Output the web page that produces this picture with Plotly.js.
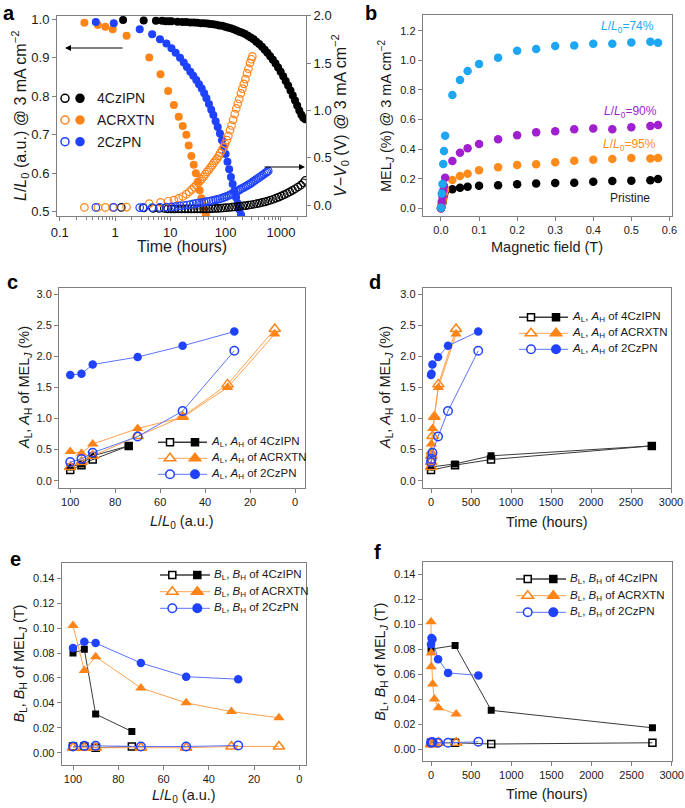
<!DOCTYPE html>
<html><head><meta charset="utf-8">
<script src="https://cdn.plot.ly/plotly-3.0.1.min.js"></script>
<style>body{margin:0;padding:0;background:#fff}#chart{width:685px;height:808px}</style>
</head><body><div id="chart"></div>
<script>
// ---------------- Panel a : lifetime (L/L0) and voltage rise (V-V0) ----------------
const tBlackL = [1.4,3.3,5.5,7.1,8.3,9.4,10.5,13.5,16.5,19.5,23,27,31,36,41,47,53,60,68,77,87,98,110,124,140,158,178,200,225,253,285,320,360,405,455,510,570,640,715,800,890,990,1100,1220,1350,1490,1640,1800,1970,2150,2340,2540,2760];
const blackL = [0.998,0.997,0.996,0.996,0.995,0.995,0.995,0.994,0.993,0.993,0.992,0.992,0.991,0.990,0.990,0.989,0.988,0.987,0.986,0.984,0.983,0.981,0.979,0.977,0.974,0.971,0.968,0.965,0.962,0.957,0.953,0.948,0.942,0.936,0.929,0.921,0.913,0.904,0.895,0.885,0.875,0.864,0.852,0.840,0.828,0.815,0.802,0.789,0.776,0.763,0.752,0.744,0.740];
const tBlackV = [1.3,3.3,4.9,6.3,7.8,9,10.4,12,14,16,18.5,21,24,27,31,35,40,45,51,58,65,73,82,92,103,116,130,146,164,184,206,231,259,290,325,365,410,460,515,578,648,727,815,914,1025,1150,1290,1445,1620,1815,2035,2280,2550,2760];
const blackV = [-0.025,-0.03,-0.035,-0.035,-0.035,-0.04,-0.04,-0.04,-0.04,-0.04,-0.04,-0.04,-0.04,-0.04,-0.04,-0.04,-0.04,-0.04,-0.04,-0.038,-0.036,-0.035,-0.033,-0.031,-0.028,-0.026,-0.023,-0.02,-0.017,-0.013,-0.01,-0.006,-0.002,0.003,0.008,0.014,0.02,0.027,0.034,0.042,0.051,0.061,0.072,0.084,0.097,0.11,0.124,0.139,0.155,0.172,0.19,0.21,0.235,0.26];
const tOrangeL = [0.28,0.49,0.67,0.91,1.62,4.16,6.65,9.14,11.6,14.2,16.8,19.5,21.5,24,26.5,29,31.5,34,36.5,39,41.5,44];
const orangeL = [0.991,0.985,0.981,0.974,0.957,0.901,0.857,0.814,0.777,0.747,0.723,0.700,0.672,0.645,0.622,0.600,0.578,0.556,0.535,0.517,0.503,0.490];
const tOrangeV = [0.28,0.49,0.67,0.91,1.62,4.16,6.65,9.14,11.6,14.2,16.8,19.5,22,24.5,27,29.5,32,34.5,37,40,43,46,49.5,53,57,61,65.5,70,75,80,86,92,98,105,112,120,128,137,146,156,166,177,189,201,214,228,243,259,276,292,305];
const orangeV = [-0.025,-0.025,-0.025,-0.025,-0.022,0.015,0.028,0.04,0.052,0.07,0.09,0.115,0.14,0.165,0.19,0.21,0.235,0.255,0.275,0.30,0.325,0.35,0.37,0.395,0.42,0.445,0.47,0.49,0.52,0.55,0.58,0.61,0.645,0.685,0.73,0.79,0.84,0.9,0.96,1.02,1.07,1.12,1.18,1.23,1.28,1.33,1.39,1.44,1.50,1.54,1.57];
const tBlueL = [0.45,0.95,2.8,4.7,6.5,8.5,10.5,12.5,15,17.5,20,23,26,29.5,33,37,41,45,50,55,60,66,72,79,86,93,100,108,116,125,134,144,155,166,178,190,205];
const blueL = [0.993,0.990,0.974,0.961,0.948,0.937,0.925,0.913,0.900,0.888,0.876,0.864,0.853,0.842,0.831,0.820,0.808,0.795,0.780,0.765,0.751,0.735,0.720,0.703,0.686,0.668,0.650,0.630,0.610,0.590,0.572,0.554,0.537,0.521,0.506,0.492,0.478];
const tBlueV = [0.45,0.95,2.8,3.2,4.7,6.5,8.5,10.5,12.5,15,17.5,20,23,26,29.5,33,37,41,45,50,55,60,66,72,79,86,93,100,108,116,125,134,144,155,166,178,190,205,220,236,253,271,290,310,332,355,380,407,435,465,497,530,560,590];
const blueV = [-0.025,-0.025,-0.027,-0.027,-0.027,-0.025,-0.022,-0.02,-0.015,-0.01,-0.005,0.0,0.005,0.012,0.018,0.022,0.026,0.03,0.035,0.04,0.045,0.05,0.055,0.06,0.066,0.073,0.08,0.087,0.095,0.103,0.112,0.12,0.13,0.14,0.15,0.16,0.17,0.18,0.19,0.2,0.21,0.22,0.232,0.244,0.256,0.268,0.28,0.292,0.304,0.316,0.328,0.34,0.35,0.36];
const materials = ['4CzIPN','ACRXTN','2CzPN'];
const logTickVals = [0.1,1,10,100,1000];
const logTickText = ['0.1','1','10','100','1000'];

// ---------------- Panel b : MEL_J vs magnetic field ----------------
const fieldLow = [0,0.002,0.004,0.006,0.008,0.011];
const fieldHigh = [0.03,0.05,0.07,0.1,0.15,0.2,0.25,0.3,0.35,0.4,0.45,0.5,0.55,0.57];
const melPristineLow = [0,0.02,0.04,0.07,0.09,0.115];
const melPristine = [0.128,0.139,0.146,0.153,0.155,0.162,0.167,0.171,0.173,0.18,0.185,0.187,0.189,0.198];
const mel95Low = [0,0.025,0.05,0.075,0.10,0.125];
const mel95 = [0.191,0.218,0.234,0.257,0.277,0.293,0.297,0.311,0.322,0.328,0.333,0.34,0.336,0.34];
const mel90Low = [0,0.045,0.08,0.12,0.15,0.207];
const mel90 = [0.32,0.376,0.405,0.434,0.466,0.493,0.513,0.52,0.534,0.54,0.534,0.547,0.556,0.563];
const mel74Low = [0.004,0.10,0.164,0.30,0.387,0.49];
const mel74 = [0.766,0.867,0.928,0.975,1.018,1.065,1.076,1.097,1.10,1.112,1.112,1.121,1.126,1.118];
const melLabels = ['<i>L</i>/<i>L</i><sub>0</sub>=74%','<i>L</i>/<i>L</i><sub>0</sub>=90%','<i>L</i>/<i>L</i><sub>0</sub>=95%','Pristine'];

// ---------------- Panels c-f : fitted parameters ----------------
const lum4Cz = [100,95,90,74];
const time4Cz = [0,300,750,2760];
const AL4Cz = [0.17,0.25,0.34,0.56];
const AH4Cz = [0.22,0.27,0.40,0.56];
const BL4Cz = [0.005,0.005,0.004,0.005];
const BH4Cz = [0.080,0.083,0.031,0.017];

const lumACR = [100,95,90,70,50,30,9];
const timeACR = [0,2,4,20,42,92,313];
const ALACR = [0.22,0.30,0.40,0.72,1.03,1.55,2.44];
const AHACR = [0.47,0.44,0.59,0.84,1.02,1.50,2.36];
const BLACR = [0.004,0.004,0.004,0.004,0.004,0.005,0.005];
const BHACR = [0.102,0.066,0.077,0.052,0.040,0.033,0.028];

const lum2Cz = [100,95,90,70,50,27];
const time2Cz = [0,6,18,88,212,590];
const AL2Cz = [0.30,0.35,0.45,0.71,1.12,2.09];
const AH2Cz = [1.70,1.72,1.87,1.99,2.17,2.40];
const BL2Cz = [0.005,0.0055,0.0055,0.005,0.005,0.0058];
const BH2Cz = [0.084,0.089,0.088,0.072,0.061,0.059];

// axis title texts
const tTime = 'Time (hours)';
const tLa = '<i>L</i>/<i>L</i><sub>0</sub> (a.u.) @ 3 mA cm<sup>−2</sup>';
const tVa = '<i>V</i>−<i>V</i><sub>0</sub> (V) @ 3 mA cm<sup>−2</sup>';
const tField = 'Magnetic field (T)';
const tMel = 'MEL<sub><i>J</i></sub> (%) @ 3 mA cm<sup>−2</sup>';
const tLum = '<i>L</i>/<i>L</i><sub>0</sub> (a.u.)';
const tA = '<i>A</i><sub>L</sub>, <i>A</i><sub>H</sub> of MEL<sub><i>J</i></sub> (%)';
const tB = '<i>B</i><sub>L</sub>, <i>B</i><sub>H</sub> of MEL<sub><i>J</i></sub> (T)';

// ---------------- styling & layout ----------------
const W = 685, H = 808;
const FONT = 'Liberation Sans, Arial, Helvetica, sans-serif';
const TXT = '#1a1a1a', FRAME = '#7f7f7f';
const cBlack = '#000000', cOrange = '#ff8418', cBlue = '#1f42ff';
const cSky = '#1ea6f2', cPurple = '#a01fcf', cOrangeB = '#ff8c1a';
const lineBlack = '#3a3a3a', lineOrange = '#ffa04d', lineBlue = '#5b74ff';

const dx = (l, r) => [l / W, r / W];
const dy = (t, b) => [1 - b / H, 1 - t / H];
const px = x => x / W, py = y => 1 - y / H;

function ax(extra) {
  return Object.assign({
    showline: true, linecolor: FRAME, linewidth: 1, mirror: true,
    ticks: 'outside', ticklen: 4, tickwidth: 1, tickcolor: FRAME,
    tickfont: {family: FONT, size: 11, color: TXT},
    showgrid: false, zeroline: false, automargin: false
  }, extra);
}

const traces = [];
function mk(x, y, xa, ya, symbol, color, size, extra) {
  const open = symbol.indexOf('open') >= 0;
  return Object.assign({
    type: 'scatter', mode: 'markers', x: x, y: y, xaxis: xa, yaxis: ya,
    showlegend: false, hoverinfo: 'skip', cliponaxis: true,
    marker: {symbol: symbol, size: size, color: color, line: {color: color, width: open ? 1.2 : 0}}
  }, extra || {});
}
// Panel a traces (open = voltage on right axis, filled = luminance on left axis)
traces.push(mk(tBlackV, blackV, 'x', 'y2', 'circle-open', cBlack, 7.5));
traces.push(mk(tOrangeV, orangeV, 'x', 'y2', 'circle-open', cOrange, 7.5));
traces.push(mk(tBlueV, blueV, 'x', 'y2', 'circle-open', cBlue, 7.5));
traces.push(mk(tOrangeL, orangeL, 'x', 'y', 'circle', cOrange, 8));
traces.push(mk(tBlueL, blueL, 'x', 'y', 'circle', cBlue, 8));
traces.push(mk(tBlackL, blackL, 'x', 'y', 'circle', cBlack, 8));

// Panel b traces
traces.push(mk(fieldLow.concat(fieldHigh), melPristineLow.concat(melPristine), 'x2', 'y3', 'circle', cBlack, 8.5));
traces.push(mk(fieldLow.concat(fieldHigh), mel95Low.concat(mel95), 'x2', 'y3', 'circle', cOrangeB, 8.5));
traces.push(mk(fieldLow.concat(fieldHigh), mel90Low.concat(mel90), 'x2', 'y3', 'circle', cPurple, 8.5));
traces.push(mk(fieldLow.concat(fieldHigh), mel74Low.concat(mel74), 'x2', 'y3', 'circle', cSky, 8.5));

// Panels c-f traces
function lm(x, y, xa, ya, symbol, color, lcolor, size) {
  const t = mk(x, y, xa, ya, symbol, color, size, {mode: 'lines+markers', line: {color: lcolor, width: 1}});
  if (symbol.indexOf('open') >= 0) t.marker.line.width = 1.5;
  return t;
}
const sets = [
  {lum: lum4Cz, time: time4Cz, AL: AL4Cz, AH: AH4Cz, BL: BL4Cz, BH: BH4Cz, sym: 'square', c: cBlack, lc: lineBlack, s: 7},
  {lum: lumACR, time: timeACR, AL: ALACR, AH: AHACR, BL: BLACR, BH: BHACR, sym: 'triangle-up', c: cOrange, lc: lineOrange, s: 10},
  {lum: lum2Cz, time: time2Cz, AL: AL2Cz, AH: AH2Cz, BL: BL2Cz, BH: BH2Cz, sym: 'circle', c: cBlue, lc: lineBlue, s: 8.5}
];
const panelAxes = [
  {xa: 'x3', ya: 'y4', xkey: 'lum', lo: 'AL', hi: 'AH'},
  {xa: 'x4', ya: 'y5', xkey: 'time', lo: 'AL', hi: 'AH'},
  {xa: 'x5', ya: 'y6', xkey: 'lum', lo: 'BL', hi: 'BH'},
  {xa: 'x6', ya: 'y7', xkey: 'time', lo: 'BL', hi: 'BH'}
];
panelAxes.forEach(p => {
  sets.forEach(s => {
    traces.push(lm(s[p.xkey], s[p.lo], p.xa, p.ya, s.sym + '-open', s.c, s.lc, s.s));
    traces.push(lm(s[p.xkey], s[p.hi], p.xa, p.ya, s.sym, s.c, s.lc, s.s));
  });
});

// ---------------- legends drawn as shapes + text ----------------
const shapes = [], annotations = [];
function markerShape(kind, filled, x, y, color, size) {
  const base = {xref: 'paper', yref: 'paper', xsizemode: 'pixel', ysizemode: 'pixel',
    xanchor: px(x), yanchor: py(y), line: {color: color, width: 1.5},
    fillcolor: filled ? color : 'white', layer: 'above'};
  const r = size / 2;
  if (kind === 'circle') return Object.assign(base, {type: 'circle', x0: -r, x1: r, y0: -r, y1: r});
  if (kind === 'square') return Object.assign(base, {type: 'rect', x0: -r, x1: r, y0: -r, y1: r});
  const w = r * 1.155, h = r * 0.5;
  return Object.assign(base, {type: 'path', path: `M${-w},${-h} L${w},${-h} L0,${r} Z`});
}
function text(x, y, t, size, color, xanchor, extra) {
  annotations.push(Object.assign({xref: 'paper', yref: 'paper', x: px(x), y: py(y), text: t, showarrow: false,
    xanchor: xanchor || 'left', yanchor: 'middle', font: {family: FONT, size: size, color: color || TXT}}, extra || {}));
}
// axis titles (placed as text so that the panels keep their exact positions)
[[tTime, 181.5, 247, 16, 0], [tLa, 20, 116, 16, -90], [tVa, 340, 116, 16, -90],
 [tField, 547, 247, 14.5, 0], [tMel, 386.5, 115.5, 14.5, -90],
 [tLum, 182, 522, 14.5, 0], [tA, 25, 388, 14.5, -90],
 [tTime, 547, 522, 14.5, 0], [tA, 386, 388, 14.5, -90],
 [tLum, 184, 796, 14.5, 0], [tB, 19.5, 664, 14.5, -90],
 [tTime, 547, 794, 14.5, 0], [tB, 381, 661.7, 14.5, -90]
].forEach(t => text(t[1], t[2], t[0], t[3], TXT, 'center', {textangle: t[4]}));

// panel a legend
[[98.3, cBlack], [120, cOrange], [141.7, cBlue]].forEach((r, i) => {
  shapes.push(markerShape('circle', false, 65, r[0], r[1], 8));
  shapes.push(markerShape('circle', true, 80, r[0], r[1], 8));
  text(95, r[0], materials[i], 14);
});
// panels c-f legends
const legendPos = [
  {rows: [442.3, 458.3, 474.3], l0: 158, l1: 207, o: 170, f: 195, tx: 209, letter: 'A'},
  {rows: [317.3, 333.3, 349.3], l0: 519, l1: 568, o: 531, f: 556, tx: 570, letter: 'A'},
  {rows: [575, 591.7, 608.3], l0: 160, l1: 210, o: 172.3, f: 197.3, tx: 212, letter: 'B'},
  {rows: [579, 595.7, 612.3], l0: 516, l1: 566, o: 527.7, f: 553.3, tx: 568, letter: 'B'}
];
const kinds = ['square', 'triangle', 'circle'];
legendPos.forEach(L => {
  sets.forEach((s, i) => {
    const y = L.rows[i];
    shapes.push({type: 'line', xref: 'paper', yref: 'paper', x0: px(L.l0), x1: px(L.l1), y0: py(y), y1: py(y),
      line: {color: s.lc, width: i === 0 ? 1.5 : 1}, layer: 'above'});
    shapes.push(markerShape(kinds[i], false, L.o, y, s.c, s.s));
    shapes.push(markerShape(kinds[i], true, L.f, y, s.c, s.s));
    text(L.tx, y, `<i>${L.letter}</i><sub>L</sub>, <i>${L.letter}</i><sub>H</sub> of ${materials[i]}`, 11.5);
  });
});
// panel b labels
text(627, 27, melLabels[0], 12, cSky, 'center');
text(630, 112, melLabels[1], 12, cPurple, 'center');
text(629, 145, melLabels[2], 12, cOrangeB, 'center');
text(630, 198, melLabels[3], 12, TXT, 'center');
// arrows in panel a
annotations.push({xref: 'paper', yref: 'paper', x: px(65), y: py(48), ax: 59, ay: 0, text: '', showarrow: true,
  arrowhead: 2, arrowsize: 1, arrowwidth: 1.2, arrowcolor: '#000'});
annotations.push({xref: 'paper', yref: 'paper', x: px(305), y: py(167), ax: -42, ay: 0, text: '', showarrow: true,
  arrowhead: 2, arrowsize: 1, arrowwidth: 1.2, arrowcolor: '#000'});
// panel letters
[['a', 1, 0.5], ['b', 363, 0.5], ['c', 5, 269], ['d', 367, 269], ['e', 8, 546], ['f', 372, 539]].forEach(l => {
  text(l[1], l[2], '<b>' + l[0] + '</b>', 20, '#000', 'left', {yanchor: 'top'});
});

const minorLog = [];
[0.1, 1, 10, 100, 1000].forEach(d => { for (let k = 2; k <= 9; k++) minorLog.push(d * k); });

const layout = {
  width: W, height: H, margin: {l: 0, r: 0, t: 0, b: 0}, paper_bgcolor: '#fff', plot_bgcolor: 'rgba(0,0,0,0)',
  font: {family: FONT, color: TXT}, showlegend: false,
  xaxis: ax({domain: dx(57, 306), anchor: 'y', type: 'log', range: [-1.0487, 3.4538], tickmode: 'array',
    tickvals: logTickVals, ticktext: logTickText, tickfont: {family: FONT, size: 13, color: TXT},
    minor: {ticks: 'outside', ticklen: 2.5, tickcolor: FRAME, tickmode: 'array', tickvals: minorLog}}),
  yaxis: ax({domain: dy(15.7, 216), anchor: 'x', range: [0.4888, 1.0094], dtick: 0.1, tick0: 0, tickformat: '.1f',
    tickfont: {family: FONT, size: 13, color: TXT}}),
  yaxis2: ax({overlaying: 'y', side: 'right', anchor: 'x', range: [-0.116, 2.0], dtick: 0.5, tick0: 0, tickformat: '.1f',
    tickfont: {family: FONT, size: 13, color: TXT}, mirror: false}),
  xaxis2: ax({domain: dx(422.7, 671.7), anchor: 'y3', range: [-0.048, 0.606], dtick: 0.1, tick0: 0, tickformat: '.1f'}),
  yaxis3: ax({domain: dy(15, 216), anchor: 'x2', range: [-0.052, 1.306], dtick: 0.2, tick0: 0, tickformat: '.1f'}),
  xaxis3: ax({domain: dx(59, 305), anchor: 'y4', range: [105, -4.45], dtick: 20, tick0: 0}),
  yaxis4: ax({domain: dy(287.7, 487.7), anchor: 'x3', range: [-0.113, 3.106], dtick: 0.5, tick0: 0, tickformat: '.1f'}),
  xaxis4: ax({domain: dx(422.7, 671), anchor: 'y5', range: [-104, 3000], dtick: 500, tick0: 0}),
  yaxis5: ax({domain: dy(288.3, 487.7), anchor: 'x4', range: [-0.113, 3.096], dtick: 0.5, tick0: 0, tickformat: '.1f'}),
  xaxis5: ax({domain: dx(61.7, 306), anchor: 'y6', range: [105, -2.96], dtick: 20, tick0: 0}),
  yaxis6: ax({domain: dy(563.3, 765), anchor: 'x5', range: [-0.00987, 0.152], dtick: 0.02, tick0: 0, tickformat: '.2f'}),
  xaxis6: ax({domain: dx(422.7, 671.7), anchor: 'y7', range: [-104, 3000], dtick: 500, tick0: 0}),
  yaxis7: ax({domain: dy(562.3, 761), anchor: 'x6', range: [-0.0096, 0.1496], dtick: 0.02, tick0: 0, tickformat: '.2f'}),
  shapes: shapes, annotations: annotations
};
Plotly.newPlot('chart', traces, layout, {staticPlot: true, displayModeBar: false});
</script></body></html>
